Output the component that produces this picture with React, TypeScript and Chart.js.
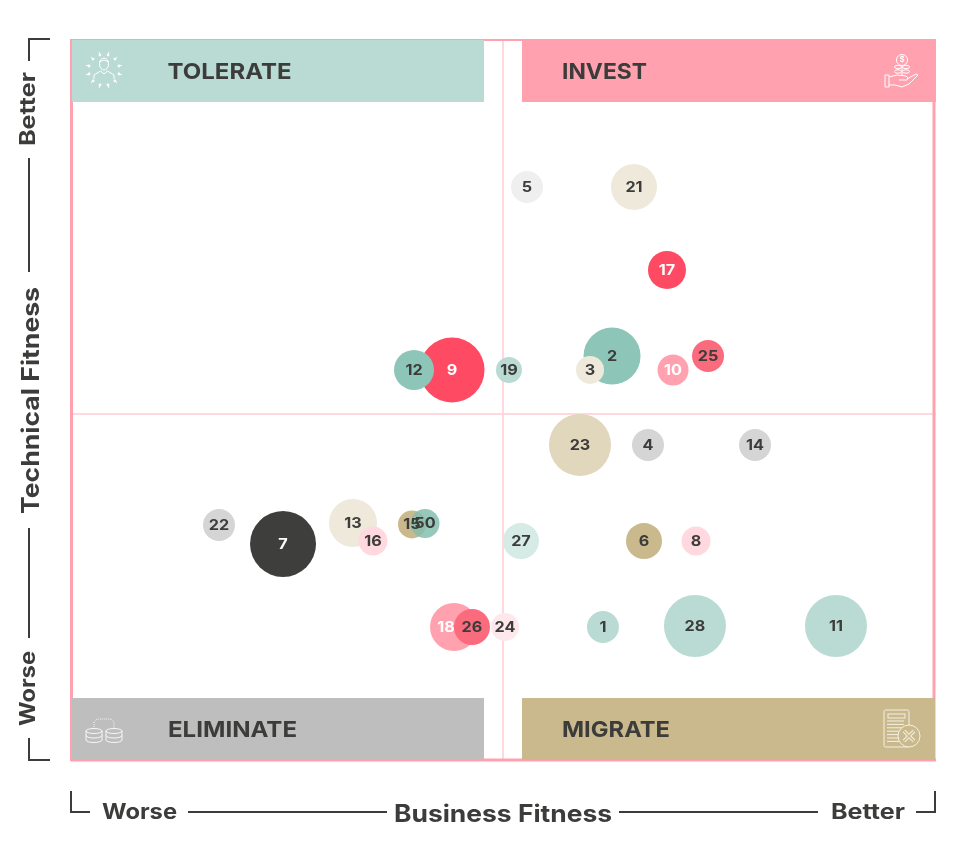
import React, { useEffect, useRef } from "react";
import { Chart, registerables } from "chart.js";

Chart.register(...registerables);

const ids = ["1","2","3","4","5","6","7","8","9","10","11","12","13","14","15","16","17","18","19","21","22","23","24","25","26","27","28","50"];
const businessFitness = [61.57,62.62,60.07,66.78,52.78,66.32,24.54,72.34,44.1,69.68,88.54,39.7,32.64,79.17,39.47,34.95,68.98,44.33,50.69,65.16,17.13,58.91,50.23,73.73,46.41,52.08,72.22,40.97];
const technicalFitness = [18.56,56.09,54.16,43.77,79.5,30.47,30.06,30.47,54.16,54.16,18.7,54.16,32.96,43.77,32.76,30.47,68,18.56,54.16,79.5,32.69,43.77,18.56,56.09,18.56,30.47,18.7,32.9];
const weights = [16,28.5,14,16,16,18,33,14.5,32.5,15.5,31,20,24,16,14,14.5,19,24,13,23,16,31,14,16,18,18,31,14.5];
const fills = ["#BADBD3","#8DC5B8","#EFE9DC","#D6D5D6","#EFEFEF","#C9B98D","#3E3E3C","#FFD9DF","#FF4A63","#FFA1AE","#BADBD3","#8DC5B8","#EFE9DC","#D6D5D6","#C9B98D","#FFD9DF","#FF4A63","#FFA1AE","#BADBD3","#EFE9DC","#D6D5D6","#E0D7BC","#FFE8EC","#FA6B7D","#FA6B7D","#D6EBE6","#BADBD3","rgba(132,190,175,0.85)"];
const whiteLabels = ["7","9","10","17","18"];
const quadrants = ["TOLERATE","INVEST","ELIMINATE","MIGRATE"];
const DARK = "#3C3C3A";
const FONT = "Inter";

function fitText(ctx: any, text: string, cx: number, cy: number, width: number, size: number, color = DARK, rot = 0, weight = 700) {
  ctx.save();
  ctx.translate(cx, cy);
  ctx.rotate(rot);
  ctx.font = `${weight} ${size}px ${FONT}`;
  const m = ctx.measureText(text).width;
  ctx.scale(width / m, 1);
  ctx.textAlign = "center";
  ctx.textBaseline = "middle";
  ctx.fillStyle = color;
  ctx.fillText(text, 0, 0);
  ctx.restore();
}

function line(ctx: any, pts: number[][], close = false) {
  ctx.beginPath();
  pts.forEach((p, i) => (i ? ctx.lineTo(p[0], p[1]) : ctx.moveTo(p[0], p[1])));
  if (close) ctx.closePath();
  ctx.stroke();
}

function personIcon(ctx: any, cx: number, cy: number) {
  ctx.save();
  ctx.strokeStyle = "#fff";
  ctx.fillStyle = "#fff";
  ctx.lineWidth = 1;
  ctx.beginPath();
  ctx.ellipse(cx, cy - 6, 4.5, 6, 0, 0, Math.PI * 2);
  ctx.stroke();
  line(ctx, [[cx - 5, cy - 8], [cx, cy - 10], [cx + 5, cy - 8]]);
  line(ctx, [[cx - 10, cy + 9], [cx - 10, cy + 5], [cx - 3.5, cy + 1], [cx, cy + 4], [cx + 3.5, cy + 1], [cx + 10, cy + 5], [cx + 10, cy + 9]]);
  for (let k = 0; k < 12; k++) {
    const a = (k * Math.PI) / 6 + Math.PI / 12;
    const r = 15.5;
    const x = cx + Math.cos(a) * r;
    const y = cy + Math.sin(a) * r;
    line(ctx, [[x, y], [x + Math.cos(a) * 3, y + Math.sin(a) * 3]]);
    ctx.beginPath();
    ctx.arc(x, y, 1.4, 0, Math.PI * 2);
    ctx.fill();
  }
  ctx.restore();
}

function plantIcon(ctx: any, cx: number, cy: number) {
  ctx.save();
  ctx.strokeStyle = "#fff";
  ctx.lineWidth = 1;
  ctx.beginPath();
  ctx.arc(cx + 1, cy - 10, 5.5, 0, Math.PI * 2);
  ctx.stroke();
  ctx.font = `600 8px ${FONT}`;
  ctx.fillStyle = "#fff";
  ctx.textAlign = "center";
  ctx.textBaseline = "middle";
  ctx.fillText("$", cx + 1, cy - 10);
  line(ctx, [[cx + 1, cy - 4.5], [cx + 1, cy + 6]]);
  [-3, 1.5].forEach((dy) => {
    ctx.beginPath();
    ctx.ellipse(cx - 3, cy + dy, 3.5, 1.7, 0, 0, Math.PI * 2);
    ctx.stroke();
    ctx.beginPath();
    ctx.ellipse(cx + 5, cy + dy, 3.5, 1.7, 0, 0, Math.PI * 2);
    ctx.stroke();
  });
  line(ctx, [[cx - 16, cy + 5], [cx - 12, cy + 5], [cx - 12, cy + 17], [cx - 16, cy + 17]], true);
  line(ctx, [[cx - 12, cy + 7], [cx - 4, cy + 5], [cx + 5, cy + 6], [cx + 7, cy + 8], [cx + 6, cy + 10], [cx - 2, cy + 10]]);
  line(ctx, [[cx + 6, cy + 9], [cx + 15, cy + 4], [cx + 17, cy + 5], [cx + 8, cy + 14], [cx + 1, cy + 17], [cx - 6, cy + 15], [cx - 12, cy + 15]]);
  ctx.restore();
}

function dbIcon(ctx: any, cx: number, cy: number) {
  ctx.save();
  ctx.strokeStyle = "rgba(255,255,255,0.85)";
  ctx.lineWidth = 1;
  [-10, 10].forEach((dx) => {
    const x = cx + dx;
    ctx.beginPath();
    ctx.ellipse(x, cy - 1, 8, 2.5, 0, 0, Math.PI * 2);
    ctx.moveTo(x - 8, cy - 1);
    ctx.lineTo(x - 8, cy + 8);
    ctx.ellipse(x, cy + 8, 8, 2.5, 0, Math.PI, 0, true);
    ctx.lineTo(x + 8, cy - 1);
    ctx.moveTo(x - 8, cy + 3.5);
    ctx.ellipse(x, cy + 3.5, 8, 2.5, 0, Math.PI, 0, true);
    ctx.stroke();
  });
  ctx.setLineDash([1, 1]);
  line(ctx, [[cx - 10, cy - 3], [cx - 10, cy - 10], [cx - 7, cy - 13], [cx + 7, cy - 13], [cx + 10, cy - 10], [cx + 10, cy - 3]]);
  ctx.restore();
}

function docIcon(ctx: any, cx: number, cy: number) {
  ctx.save();
  ctx.strokeStyle = "#F5F0E2";
  ctx.lineWidth = 1;
  ctx.beginPath();
  ctx.roundRect(cx - 15, cy - 19, 25, 37, 1.5);
  ctx.stroke();
  ctx.strokeRect(cx - 11, cy - 15, 17, 4);
  for (let k = 0; k < 7; k++) {
    const y = cy - 8 + k * 3.4;
    line(ctx, [[cx - 12, y], [cx + 5, y]]);
  }
  ctx.fillStyle = "#C9B98D";
  ctx.beginPath();
  ctx.arc(cx + 10, cy + 7, 11, 0, Math.PI * 2);
  ctx.fill();
  ctx.stroke();
  ctx.lineWidth = 3.5;
  line(ctx, [[cx + 5, cy + 2], [cx + 15, cy + 12]]);
  line(ctx, [[cx + 15, cy + 2], [cx + 5, cy + 12]]);
  ctx.strokeStyle = "#C9B98D";
  ctx.lineWidth = 1.5;
  line(ctx, [[cx + 5, cy + 2], [cx + 15, cy + 12]]);
  line(ctx, [[cx + 15, cy + 2], [cx + 5, cy + 12]]);
  ctx.restore();
}

const labelShift: Record<string, number> = { "18": -8 };

const matrixPlugin = {
  id: "matrix",
  beforeDatasetsDraw(chart: any) {
    const ctx = chart.ctx;
    const x = chart.scales.x;
    const y = chart.scales.y;
    const left = x.left;
    const right = x.right + 1;
    const top = y.top;
    const bottom = y.bottom;
    const midX = x.getPixelForValue(50);
    const midY = y.getPixelForValue(48.06);
    ctx.save();
    ctx.strokeStyle = "#FFD9DF";
    ctx.lineWidth = 2;
    line(ctx, [[midX, top + 2], [midX, bottom - 2]]);
    line(ctx, [[left, midY], [right, midY]]);
    ctx.strokeStyle = "#FFA1AE";
    ctx.lineWidth = 2;
    line(ctx, [[left, top + 1], [right, top + 1]]);
    ctx.lineWidth = 3;
    line(ctx, [[left + 0.5, top], [left + 0.5, bottom]]);
    line(ctx, [[right - 2, top], [right - 2, bottom]]);
    line(ctx, [[left, bottom - 1], [right, bottom - 1]]);
    ctx.fillStyle = "#BADBD3";
    ctx.fillRect(72, 40, 412, 62);
    ctx.fillStyle = "#FFA1AE";
    ctx.fillRect(522, 39, right - 522, 63);
    ctx.fillStyle = "#BEBEBE";
    ctx.fillRect(72, 698, 412, 61);
    ctx.fillStyle = "#C9B98D";
    ctx.fillRect(522, 698, right - 523, 62);
    fitText(ctx, quadrants[0], 229.5, 72, 124, 22);
    fitText(ctx, quadrants[1], 604.5, 72, 85, 22);
    fitText(ctx, quadrants[2], 232.5, 730, 129, 22);
    fitText(ctx, quadrants[3], 616, 730, 108, 22);
    personIcon(ctx, 104, 70);
    plantIcon(ctx, 901, 70);
    dbIcon(ctx, 104, 732);
    docIcon(ctx, 899, 729);

    const rot = -Math.PI / 2;
    ctx.strokeStyle = DARK;
    ctx.lineWidth = 2;
    line(ctx, [[50, 39], [29, 39], [29, 61]]);
    line(ctx, [[29, 158], [29, 272]]);
    line(ctx, [[29, 528], [29, 638]]);
    line(ctx, [[29, 738], [29, 760], [50, 760]]);
    line(ctx, [[71, 791], [71, 812], [90, 812]]);
    line(ctx, [[188, 812], [387, 812]]);
    line(ctx, [[619, 812], [818, 812]]);
    line(ctx, [[916, 812], [935, 812], [935, 791]]);
    fitText(ctx, "Better", 29, 109, 74, 21, DARK, rot);
    fitText(ctx, "Technical Fitness", 32, 400.5, 227, 24, DARK, rot);
    fitText(ctx, "Worse", 29, 688.5, 75, 21, DARK, rot);
    fitText(ctx, "Worse", 139.5, 813, 75, 21);
    fitText(ctx, "Business Fitness", 503, 815, 218, 24);
    fitText(ctx, "Better", 868, 813, 74, 21);
    ctx.restore();
  },
  afterDatasetsDraw(chart: any) {
    const ctx = chart.ctx;
    const meta = chart.getDatasetMeta(0);
    ctx.save();
    ctx.font = `700 15px ${FONT}`;
    ctx.textAlign = "center";
    ctx.textBaseline = "middle";
    meta.data.forEach((el: any, i: number) => {
      ctx.save();
      ctx.translate(el.x + (labelShift[ids[i]] || 0), el.y + 0.5);
      ctx.scale(1.08, 1);
      ctx.fillStyle = whiteLabels.includes(ids[i]) ? "#fff" : DARK;
      ctx.fillText(ids[i], 0, 0);
      ctx.restore();
    });
    ctx.restore();
  },
};

export default function App() {
  const ref = useRef<HTMLCanvasElement>(null);
  useEffect(() => {
    const chart = new Chart(ref.current as HTMLCanvasElement, {
      type: "bubble",
      data: {
        datasets: [
          {
            data: ids.map((_, i) => ({ x: businessFitness[i], y: technicalFitness[i], r: weights[i] })),
            backgroundColor: fills,
            borderWidth: 0,
          },
        ],
      },
      options: {
        animation: false,
        responsive: false,
        devicePixelRatio: 1,
        layout: { padding: { left: 71, right: 65, top: 39, bottom: 86 } },
        scales: {
          x: { display: false, min: 0, max: 100 },
          y: { display: false, min: 0, max: 100 },
        },
        plugins: { legend: { display: false }, tooltip: { enabled: false } },
      },
      plugins: [matrixPlugin],
    } as any);
    return () => chart.destroy();
  }, []);
  return (
    <div style={{ position: "absolute", left: 0, top: 0, width: 966, height: 847, overflow: "hidden" }}>
      <canvas ref={ref} width={1000} height={847} style={{ display: "block", width: 1000, height: 847 }} />
    </div>
  );
}
